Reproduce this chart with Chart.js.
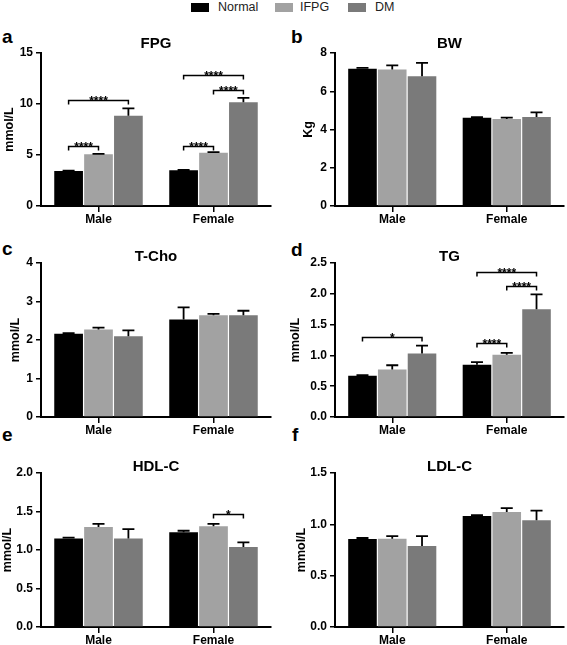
<!DOCTYPE html>
<html><head><meta charset="utf-8">
<script src="https://cdn.jsdelivr.net/npm/chart.js@4.4.1/dist/chart.umd.min.js"></script>
<style>
body{margin:0;width:567px;height:645px;position:relative;background:#fff;overflow:hidden;font-family:Arial,"Liberation Sans",sans-serif}
canvas{position:absolute}
.letter{position:absolute;font:bold 19px Arial,"Liberation Sans",sans-serif;line-height:19px;color:#000}
.lg{position:absolute;top:3px;width:18px;height:9px}
.lt{position:absolute;top:0px;font:12.5px Arial,"Liberation Sans",sans-serif;line-height:15px;color:#222}
</style>
</head><body>
<div class="lg" style="left:191px;background:#000"></div><div class="lt" style="left:218px">Normal</div>
<div class="lg" style="left:275px;background:#a2a2a2"></div><div class="lt" style="left:300px">IFPG</div>
<div class="lg" style="left:348px;background:#7a7a7a"></div><div class="lt" style="left:375px">DM</div>
<div class="letter" style="left:2px;top:27px">a</div>
<div class="letter" style="left:291px;top:27px">b</div>
<div class="letter" style="left:2px;top:239px">c</div>
<div class="letter" style="left:291px;top:240px">d</div>
<div class="letter" style="left:2px;top:425px">e</div>
<div class="letter" style="left:292px;top:425px">f</div>
<script>
// ---- data ----
const groups = ['Male', 'Female'];
const seriesNames = ['Normal', 'IFPG', 'DM'];
const seriesColors = ['#000000', '#a2a2a2', '#7a7a7a'];

// rows: Normal, IFPG, DM ; columns: Male, Female
const fpgMeans = [[3.43, 3.50], [5.07, 5.23], [8.85, 10.17]];
const fpgErrors = [[0.03, 0.03], [0.05, 0.05], [0.73, 0.43]];
const fpgSig = [[0, 0, 1, 5.9, '****'], [0, 0, 2, 10.35, '****'], [1, 0, 1, 5.9, '****'], [1, 1, 2, 11.4, '****'], [1, 0, 2, 12.8, '****']];
const fpgTicks = [0, 15, 5, 0];

const bwMeans = [[7.17, 4.62], [7.14, 4.55], [6.78, 4.66]];
const bwErrors = [[0.05, 0.03], [0.21, 0.07], [0.70, 0.24]];
const bwSig = [];
const bwTicks = [0, 8, 2, 0];

const tchoMeans = [[2.16, 2.53], [2.27, 2.64], [2.10, 2.64]];
const tchoErrors = [[0.02, 0.32], [0.05, 0.04], [0.15, 0.12]];
const tchoSig = [];
const tchoTicks = [0, 4, 1, 0];

const tgMeans = [[0.67, 0.85], [0.77, 1.01], [1.03, 1.75]];
const tgErrors = [[0.01, 0.04], [0.07, 0.03], [0.13, 0.24]];
const tgSig = [[0, 0, 2, 1.30, '*'], [1, 0, 1, 1.20, '****'], [1, 1, 2, 2.12, '****'], [1, 0, 2, 2.35, '****']];
const tgTicks = [0, 2.5, 0.5, 1];

const hdlMeans = [[1.15, 1.23], [1.30, 1.31], [1.15, 1.04]];
const hdlErrors = [[0.01, 0.02], [0.04, 0.03], [0.12, 0.06]];
const hdlSig = [[1, 1, 2, 1.47, '*']];
const hdlTicks = [0, 2.0, 0.5, 1];

const ldlMeans = [[0.857, 1.08], [0.86, 1.12], [0.79, 1.04]];
const ldlErrors = [[0.01, 0.01], [0.026, 0.037], [0.096, 0.094]];
const ldlSig = [];
const ldlTicks = [0, 1.5, 0.5, 1];

// ---- plugin: error bars + significance brackets ----
const annotPlugin = {
  id: 'annot',
  afterDatasetsDraw(chart, args, opts) {
    const ctx = chart.ctx, y = chart.scales.y;
    ctx.save();
    ctx.strokeStyle = '#000';
    ctx.fillStyle = '#000';
    ctx.lineWidth = 1.8;
    (opts.errors || []).forEach((errs, i) => {
      const meta = chart.getDatasetMeta(i);
      meta.data.forEach((bar, j) => {
        const v = chart.data.datasets[i].data[j];
        const top = y.getPixelForValue(v + errs[j]);
        ctx.beginPath();
        ctx.moveTo(bar.x, bar.y);
        ctx.lineTo(bar.x, top);
        ctx.moveTo(bar.x - 6, top);
        ctx.lineTo(bar.x + 6, top);
        ctx.stroke();
      });
    });
    ctx.lineWidth = 1.5;
    ctx.font = 'bold 12px Arial, "Liberation Sans", sans-serif';
    ctx.textAlign = 'center';
    ctx.textBaseline = 'alphabetic';
    (opts.sig || []).forEach(([g, a, b, val, label]) => {
      const x1 = chart.getDatasetMeta(a).data[g].x;
      const x2 = chart.getDatasetMeta(b).data[g].x;
      const py = Math.round(y.getPixelForValue(val)) + 0.5;
      ctx.beginPath();
      ctx.moveTo(x1, py + 4); ctx.lineTo(x1, py); ctx.lineTo(x2, py); ctx.lineTo(x2, py + 4);
      ctx.stroke();
      ctx.fillText(label, (x1 + x2) / 2, py + 4);
    });
    ctx.restore();
  }
};

const FONT = 'Arial, "Liberation Sans", sans-serif';

function makePanel(p) {
  const cv = document.createElement('canvas');
  cv.width = p.w; cv.height = p.h;
  cv.style.left = p.left + 'px'; cv.style.top = p.top + 'px';
  cv.style.width = p.w + 'px'; cv.style.height = p.h + 'px';
  document.body.appendChild(cv);
  const [ymin, ymax, step, dec] = p.ticks;
  new Chart(cv, {
    type: 'bar',
    data: {
      labels: groups,
      datasets: seriesNames.map((n, i) => ({
        label: n, data: p.means[i], backgroundColor: seriesColors[i],
        borderWidth: 0, barPercentage: 0.96, categoryPercentage: 0.78
      }))
    },
    options: {
      responsive: false, animation: false, devicePixelRatio: 1,
      layout: { padding: { left: 0, right: p.padR, top: 0, bottom: 0 } },
      plugins: {
        legend: { display: false }, tooltip: { enabled: false },
        title: {
          display: true, text: p.title, color: '#000', fullSize: false,
          font: { family: FONT, size: 15, weight: 'bold', lineHeight: 0.8 },
          padding: { top: p.tPad[0], bottom: p.tPad[1] }
        },
        annot: { errors: p.errors, sig: p.sig }
      },
      scales: {
        x: {
          afterFit: s => { s.height = p.xH; },
          grid: { display: true, offset: false, drawOnChartArea: false, drawTicks: true, tickLength: 6, color: '#000', lineWidth: 1.5 },
          border: { display: true, color: '#000', width: 2 },
          ticks: { color: '#000', padding: 0, font: { family: FONT, size: 12, weight: 'bold' } }
        },
        y: {
          min: ymin, max: ymax,
          afterFit: s => { s.width = p.yW; },
          grid: { display: true, drawOnChartArea: false, drawTicks: true, tickLength: 5, color: '#000', lineWidth: 1.5 },
          border: { display: true, color: '#000', width: 2 },
          ticks: { stepSize: step, color: '#000', padding: 3, font: { family: FONT, size: 12, weight: 'bold' },
            callback: v => Number(v).toFixed(dec) },
          title: { display: true, text: p.ytitle, color: '#000', font: { family: FONT, size: 12.5, weight: 'bold' },
            padding: { top: p.yTP, bottom: 0 } }
        }
      }
    },
    plugins: [annotPlugin]
  });
}

const L = { left: 0, w: 283, yW: 41, padR: 12 };
const R = { left: 283, w: 284, yW: 52, padR: 3 };
const row1 = { top: 28, h: 200, xH: 22, tPad: [10, 3] };
const row2 = { top: 238, h: 201, xH: 22, tPad: [13, 0] };
const row3 = { top: 448, h: 197, xH: 18, tPad: [13, 0] };

makePanel({ ...L, ...row1, title: 'FPG', ytitle: 'mmol/L', yTP: 2.5, means: fpgMeans, errors: fpgErrors, sig: fpgSig, ticks: fpgTicks });
makePanel({ ...R, ...row1, title: 'BW', ytitle: 'Kg', yTP: 18.5, means: bwMeans, errors: bwErrors, sig: bwSig, ticks: bwTicks });
makePanel({ ...L, ...row2, title: 'T-Cho', ytitle: 'mmol/L', yTP: 8.5, means: tchoMeans, errors: tchoErrors, sig: tchoSig, ticks: tchoTicks });
makePanel({ ...R, ...row2, title: 'TG', ytitle: 'mmol/L', yTP: 5.5, means: tgMeans, errors: tgErrors, sig: tgSig, ticks: tgTicks });
makePanel({ ...L, ...row3, title: 'HDL-C', ytitle: 'mmol/L', yTP: 0.5, means: hdlMeans, errors: hdlErrors, sig: hdlSig, ticks: hdlTicks });
makePanel({ ...R, ...row3, title: 'LDL-C', ytitle: 'mmol/L', yTP: 11.5, means: ldlMeans, errors: ldlErrors, sig: ldlSig, ticks: ldlTicks });
</script>
</body></html>
